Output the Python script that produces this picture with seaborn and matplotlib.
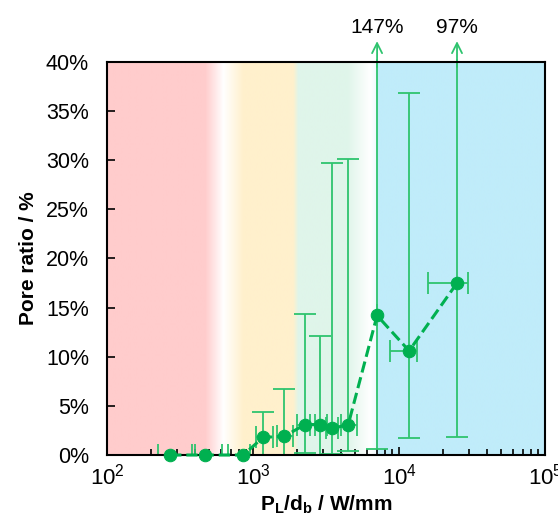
import numpy as np
import pandas as pd
import seaborn as sns
import matplotlib.pyplot as plt
from matplotlib.colors import to_rgb
from matplotlib.ticker import LogLocator, FixedLocator, NullFormatter

# data
power_density = [270, 470, 855, 1170, 1630, 2270, 2880, 3480, 4480, 7060, 11700, 24900]
pore_ratio = [0.0, 0.0, 0.0, 1.8, 1.9, 3.1, 3.1, 2.7, 3.1, 14.2, 10.6, 17.5]
pore_upper = [0.0, 0.0, 0.0, 4.4, 6.7, 14.3, 12.1, 29.7, 30.1, 147.0, 36.8, 97.0]
pore_lower = [0.0, 0.0, 0.0, 0.0, 0.0, 0.2, 0.0, 0.1, 0.4, 0.6, 1.7, 1.8]
pd_low = [223, 401, 675, 1050, 1460, 2000, 2660, 3160, 4010, 7060, 8670, 15800]
pd_high = [382, 614, 955, 1370, 1880, 2455, 3210, 3820, 5150, 7060, 13280, 29700]
overflow_labels = ['147%', '97%']
overflow_points = [9, 11]

# background regime shading (gradient stops in W/mm)
band_stops = [100, 469, 624, 855, 1880, 2030, 4410, 6320, 6950, 7060, 100000]
band_colors = ['#FFCCCC', '#FFCCCC', '#FFFFFF', '#FFF0CC', '#FFF0CC', '#DFF5EA',
               '#DFF5EA', '#FFFFFF', '#F0FAFE', '#C0ECFA', '#C0ECFA']

df = pd.DataFrame({'x': power_density, 'y': pore_ratio})

sns.set_style("white")
plt.rcParams['font.family'] = ['Liberation Sans', 'DejaVu Sans']
plt.rcParams['mathtext.fontset'] = 'custom'
plt.rcParams['mathtext.rm'] = 'Liberation Sans'
plt.rcParams['mathtext.bf'] = 'Liberation Sans:bold'
plt.rcParams['text.color'] = 'black'
plt.rcParams['axes.labelcolor'] = 'black'
plt.rcParams['xtick.color'] = 'black'
plt.rcParams['ytick.color'] = 'black'

fig = plt.figure(figsize=(5.58, 5.25), dpi=100)
ax = fig.add_axes([0.192, 0.1333, 0.785, 0.7487])
ax.set_xscale('log')
ax.set_xlim(1e2, 1e5)
ax.set_ylim(0, 40)

# gradient background drawn in axes fraction (log x)
frac = np.linspace(0, 1, 1200)
logx = 2 + 3 * frac
stops = np.log10(band_stops)
rgb = np.array([to_rgb(c) for c in band_colors])
grad = np.stack([np.interp(logx, stops, rgb[:, k]) for k in range(3)], axis=-1)
ax.imshow(grad[np.newaxis, :, :], extent=[0, 1, 0, 1], transform=ax.transAxes,
          aspect='auto', zorder=0, interpolation='bilinear')

green = '#00B050'
bar_green = '#2EC46E'

xerr = [np.array(power_density) - np.array(pd_low), np.array(pd_high) - np.array(power_density)]
yerr = [np.array(pore_ratio) - np.array(pore_lower), np.array(pore_upper) - np.array(pore_ratio)]
ax.errorbar(power_density, pore_ratio, xerr=xerr, yerr=yerr, fmt='none',
            ecolor=bar_green, elinewidth=1.3, capsize=8, capthick=1.3, zorder=2)

sns.lineplot(data=df, x='x', y='y', ax=ax, color=green, linestyle='--', linewidth=2.2,
             marker='o', markersize=9, markeredgecolor=green, sort=False, zorder=6,
             clip_on=False)

# arrows for error bars beyond the axis
for idx, lab in zip(overflow_points, overflow_labels):
    xv = power_density[idx]
    ax.annotate('', xy=(xv, 42.4), xytext=(xv, 39.9),
                arrowprops=dict(arrowstyle='->', color=bar_green, lw=1.3, mutation_scale=18),
                annotation_clip=False)
    ax.plot([xv, xv], [39.5, 40.2], color=bar_green, lw=1.3, clip_on=False, zorder=2)
    ax.text(xv, 42.9, lab, ha='center', va='baseline', fontsize=15, clip_on=False)

ax.set_yticks(np.arange(0, 41, 5))
ax.set_yticklabels([f'{v}%' for v in range(0, 41, 5)], fontsize=15.5)
ax.xaxis.set_major_locator(FixedLocator([1e2, 1e3, 1e4, 1e5]))
ax.set_xticklabels([r'$\mathregular{10^{%d}}$' % p for p in range(2, 6)], fontsize=16)
ax.xaxis.set_minor_locator(LogLocator(base=10, subs=np.arange(2, 10)))
ax.xaxis.set_minor_formatter(NullFormatter())
ax.tick_params(axis='both', which='major', direction='in', length=6, width=1.2,
               color='black')
ax.tick_params(axis='y', which='major', pad=13)
ax.tick_params(axis='x', which='major', pad=6)
ax.tick_params(axis='x', which='minor', direction='in', length=4, width=1.2, color='black')
ax.tick_params(bottom=True, left=True, top=False, right=False, which='both')
ax.tick_params(axis='y', which='minor', left=False)

for s in ax.spines.values():
    s.set_color('black')
    s.set_linewidth(1.5)
    s.set_zorder(5)

ax.set_xlabel(r'$\mathbf{P_L/d_b}$ / W/mm', fontsize=15, fontweight='bold', labelpad=3)
ax.set_ylabel('Pore ratio / %', fontsize=15, fontweight='bold', labelpad=6)

fig.savefig('out.png', dpi=100)
